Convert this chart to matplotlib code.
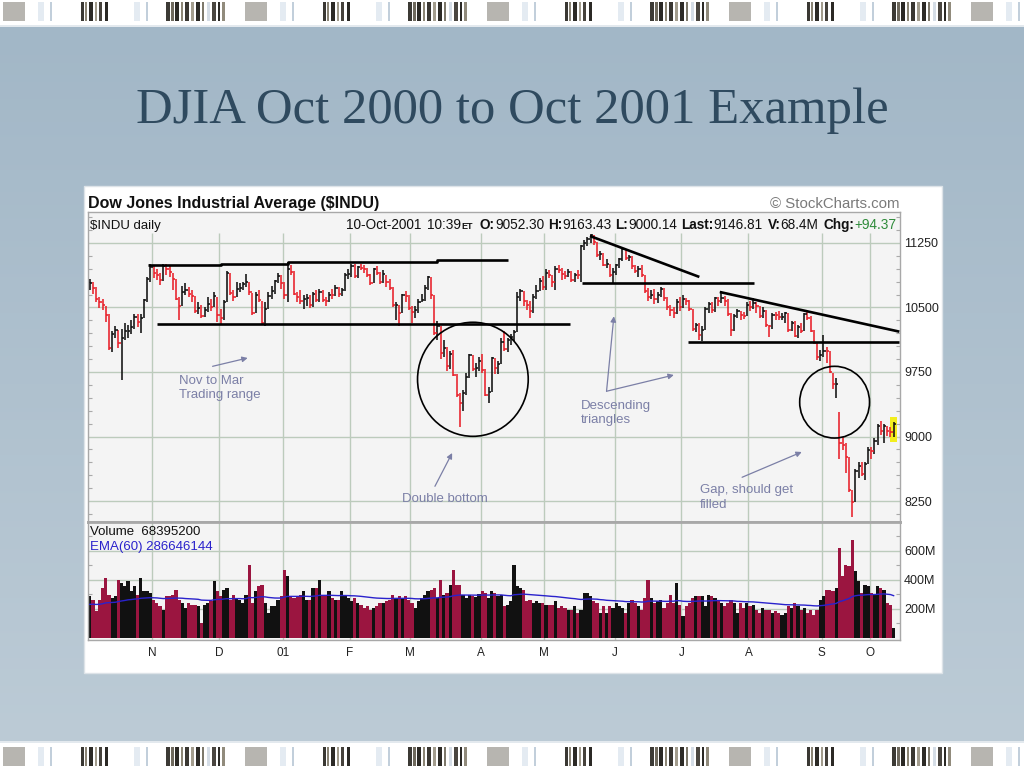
"""
DJIA Oct 2000 to Oct 2001 slide: StockCharts style daily bar chart with volume
"""

import numpy as np
import pandas as pd
import matplotlib
matplotlib.use("Agg")
import matplotlib.pyplot as plt
from matplotlib.colors import LinearSegmentedColormap
from matplotlib.patches import Ellipse, Rectangle

plt.rcParams['font.family'] = ['Liberation Sans', 'DejaVu Sans']

# data (daily bars, Oct 4 2000 .. Oct 10 2001)
# ---------------------------------------------
month_labels = ["N", "D", "01", "F", "M", "A", "M", "J", "J", "A", "S", "O"]
month_lengths = [20, 21, 20, 21, 19, 22, 20, 22, 21, 21, 23, 15, 8]   # trading days per month, Oct00..Oct01

closes = [
    10784, 10724, 10596, 10568, 10524, 10413, 10034, 10192, 10238, 10089, 10142, 10226, 10226, 10271, 10393, 10326, 10380, 10590, 10835, 10971,
    10899, 10880, 10817, 10977, 10952, 10907, 10834, 10603, 10518, 10681, 10708, 10656, 10629, 10462, 10494, 10399, 10470, 10546, 10507, 10629, 10415,
    10373, 10560, 10898, 10664, 10617, 10713, 10726, 10768, 10795, 10675, 10434, 10645, 10585, 10318, 10487, 10636, 10692, 10803, 10869, 10787,
    10646, 10946, 10912, 10662, 10621, 10572, 10604, 10610, 10525, 10652, 10584, 10679, 10587, 10578, 10649, 10647, 10730, 10660, 10702, 10882, 10887,
    10984, 10864, 10965, 10958, 10946, 10880, 10781, 10946, 10904, 10796, 10891, 10799, 10730, 10526, 10526, 10441, 10642, 10636, 10495,
    10450, 10466, 10562, 10591, 10729, 10858, 10644, 10208, 10290, 9973, 10032, 9823, 9959, 9720, 9487, 9389, 9504, 9687, 9947, 9785, 9799, 9879,
    9777, 9485, 9515, 9918, 9791, 9845, 10102, 10013, 10127, 10158, 10217, 10616, 10694, 10579, 10532, 10454, 10625, 10692, 10811, 10735,
    10898, 10877, 10796, 10951, 10935, 10884, 10867, 10910, 10821, 10878, 10873, 11215, 11248, 11301, 11337, 11257, 11105, 11122, 10999, 11006, 10872, 10912,
    10990, 11061, 11175, 11070, 11091, 10977, 10922, 10950, 10872, 10690, 10623, 10645, 10597, 10647, 10716, 10605, 10505, 10472, 10434, 10566, 10502,
    10593, 10571, 10480, 10253, 10300, 10175, 10242, 10479, 10540, 10471, 10606, 10576, 10611, 10577, 10424, 10241, 10405, 10455, 10417, 10401, 10523,
    10510, 10551, 10512, 10401, 10458, 10292, 10288, 10416, 10415, 10384, 10393, 10433, 10241, 10320, 10174, 10276, 10229, 10423, 10382, 10222, 10091, 9919, 9950,
    9998, 9992, 9751, 9606, 9606, 8921, 8904, 8759, 8377, 8236, 8604, 8660, 8568, 8682, 8848,
    8836, 8950, 9123, 9060, 9119, 9067, 9052, 9147]

highs = [
    10830, 10800, 10740, 10620, 10600, 10520, 10420, 10230, 10290, 10240, 10250, 10320, 10300, 10350, 10420, 10420, 10420, 10600, 10860, 11000,
    10990, 10950, 10900, 11010, 11000, 10990, 10900, 10830, 10620, 10750, 10790, 10740, 10700, 10630, 10560, 10530, 10500, 10620, 10600, 10680, 10620,
    10480, 10590, 10920, 10900, 10700, 10800, 10790, 10800, 10890, 10800, 10670, 10680, 10700, 10580, 10560, 10680, 10750, 10820, 10900, 10880,
    10800, 11030, 10990, 10920, 10680, 10700, 10640, 10660, 10650, 10680, 10700, 10710, 10700, 10620, 10680, 10720, 10760, 10740, 10730, 10900, 10950,
    11010, 11000, 10980, 11010, 10990, 10960, 10890, 10960, 10980, 10910, 10940, 10880, 10830, 10740, 10560, 10530, 10660, 10690, 10650,
    10520, 10520, 10600, 10660, 10760, 10870, 10850, 10640, 10340, 10280, 10120, 10040, 9990, 10000, 9730, 9500, 9540, 9740, 9960, 9950, 9860, 9920,
    9960, 9780, 9580, 9930, 9910, 9880, 10140, 10230, 10140, 10190, 10240, 10680, 10720, 10690, 10590, 10580, 10660, 10760, 10840, 10870,
    10950, 10940, 10880, 10980, 10990, 10960, 10920, 10950, 10920, 10900, 10930, 11230, 11290, 11320, 11350, 11340, 11260, 11160, 11130, 11060, 11010, 10960,
    11010, 11080, 11200, 11180, 11110, 11100, 10990, 10980, 10990, 10880, 10730, 10700, 10710, 10680, 10740, 10730, 10620, 10530, 10500, 10600, 10620,
    10640, 10610, 10590, 10480, 10320, 10320, 10280, 10500, 10560, 10560, 10620, 10620, 10690, 10630, 10600, 10430, 10420, 10480, 10460, 10450, 10560,
    10570, 10610, 10560, 10520, 10500, 10470, 10300, 10430, 10450, 10460, 10440, 10450, 10430, 10340, 10340, 10300, 10320, 10440, 10450, 10400, 10240, 10090, 10010,
    10180, 10040, 9990, 9740, 9680, 9290, 9000, 8930, 8760, 8380, 8620, 8700, 8700, 8700, 8880,
    8880, 8980, 9150, 9180, 9140, 9120, 9110, 9163]

lows = [
    10700, 10660, 10560, 10490, 10470, 10330, 10000, 9980, 10150, 10030, 9654, 10120, 10140, 10190, 10250, 10270, 10200, 10380, 10560, 10800,
    10840, 10820, 10760, 10810, 10880, 10860, 10700, 10590, 10360, 10520, 10640, 10620, 10560, 10440, 10420, 10380, 10390, 10450, 10460, 10500, 10330,
    10300, 10360, 10560, 10640, 10580, 10620, 10680, 10700, 10740, 10650, 10410, 10430, 10560, 10300, 10290, 10480, 10600, 10660, 10780, 10720,
    10600, 10560, 10880, 10640, 10560, 10540, 10480, 10520, 10490, 10500, 10560, 10560, 10560, 10520, 10560, 10600, 10630, 10620, 10630, 10690, 10830,
    10850, 10840, 10840, 10930, 10900, 10850, 10760, 10780, 10880, 10770, 10790, 10740, 10700, 10510, 10360, 10290, 10440, 10560, 10470,
    10320, 10380, 10440, 10560, 10580, 10700, 10600, 10180, 10120, 9900, 9920, 9760, 9780, 9700, 9460, 9106, 9300, 9480, 9680, 9760, 9690, 9760,
    9740, 9470, 9389, 9520, 9730, 9730, 9840, 9990, 9980, 10060, 10110, 10220, 10580, 10520, 10470, 10380, 10430, 10600, 10690, 10700,
    10700, 10840, 10740, 10700, 10900, 10820, 10830, 10850, 10800, 10800, 10830, 10800, 11170, 11220, 11250, 11230, 11090, 11050, 10980, 10960, 10860, 10790,
    10880, 10960, 11040, 11050, 11040, 10950, 10900, 10860, 10860, 10670, 10580, 10600, 10540, 10550, 10620, 10580, 10470, 10400, 10380, 10420, 10460,
    10490, 10530, 10460, 10230, 10220, 10120, 10105, 10240, 10440, 10430, 10450, 10520, 10550, 10520, 10400, 10170, 10230, 10380, 10360, 10370, 10400,
    10460, 10480, 10440, 10380, 10380, 10270, 10160, 10250, 10360, 10350, 10360, 10320, 10220, 10230, 10160, 10140, 10200, 10230, 10360, 10210, 10070, 9890, 9880,
    9920, 9860, 9740, 9550, 9450, 8740, 8840, 8580, 8350, 8062, 8240, 8520, 8540, 8500, 8680,
    8740, 8800, 8900, 9020, 8920, 9010, 9000, 9000]

volumes_m = [
    287, 264, 184, 264, 345, 414, 299, 276, 287, 402, 379, 356, 391, 322, 356, 299, 414, 322, 322, 310,
    264, 241, 218, 195, 287, 287, 299, 333, 264, 241, 207, 241, 230, 230, 218, 103, 230, 241, 253, 391, 322,
    287, 333, 345, 264, 299, 276, 264, 241, 299, 506, 241, 322, 356, 368, 241, 172, 218, 218, 264, 287,
    471, 425, 287, 276, 287, 299, 322, 264, 264, 345, 345, 402, 287, 299, 322, 276, 264, 264, 322, 287, 276,
    253, 276, 241, 230, 207, 218, 195, 207, 218, 241, 241, 253, 264, 299, 276, 287, 276, 287, 264,
    241, 207, 253, 276, 299, 322, 333, 345, 276, 402, 299, 310, 368, 471, 368, 368, 299, 276, 299, 287, 280, 300,
    322, 310, 276, 322, 310, 287, 299, 218, 230, 253, 506, 356, 345, 333, 253, 264, 241, 253, 241, 241,
    230, 230, 230, 253, 207, 218, 207, 195, 195, 218, 172, 195, 310, 310, 287, 253, 241, 172, 218, 172, 218, 207,
    241, 218, 207, 172, 241, 264, 241, 218, 195, 276, 402, 276, 241, 253, 264, 207, 241, 299, 241, 379, 230,
    150, 218, 241, 276, 287, 287, 287, 218, 299, 287, 276, 264, 241, 218, 241, 264, 241, 172, 241, 207, 241,
    218, 230, 195, 172, 207, 195, 195, 172, 184, 172, 161, 172, 218, 207, 241, 218, 195, 207, 172, 195, 161, 195, 264,
    287, 333, 333, 322, 345, 621, 425, 506, 494, 678, 460, 391, 310, 368, 356,
    310, 299, 356, 345, 333, 241, 230, 69]
ema_seed_m = 230

price_ticks = [11250, 10500, 9750, 9000, 8250]
volume_ticks = [200, 400, 600]

# drawn-on trend lines and circles, in (bar index, price)
range_top = [(18.3, 10995), (41, 10995), (41, 11010), (62, 11010), (62, 11025), (109, 11025), (109, 11055), (131, 11055)]
range_bottom = [(21.1, 10308), (150.5, 10308)]
triangle_lines = [[(156.8, 11331), (191.1, 10855)], [(154.2, 10781), (208.3, 10781)],
                  [(197.5, 10680), (253.8, 10219)], [(187.6, 10099), (253.8, 10099)]]
circles = [((120.1, 9665), 34.7, 1326), ((233.5, 9399), 21.9, 834)]

notes = [("Nov to Mar\nTrading range", (28.1, 9720)),
         ("Double bottom", (97.8, 8340)),
         ("Descending\ntriangles", (154.0, 9430)),
         ("Gap, should get\nfilled", (191.3, 8450))]
note_arrows = [((38.5, 9816), (49.5, 9913)),
               ((108.2, 8421), (113.6, 8808)),
               ((162.0, 9526), (164.3, 10398)),
               ((162.0, 9526), (183.1, 9715)),
               ((204.5, 8526), (223.2, 8820))]

# colours
bar_red = "#e8202a"
bar_black = "#111111"
vol_red = "#9b1540"
grid_c = "#bccbbc"
note_c = "#7b7fa6"
ema_c = "#2a22cc"

W, H = 1024, 768


def frac(x0, y0, x1, y1):
    return [x0 / W, 1 - y1 / H, (x1 - x0) / W, (y1 - y0) / H]


fig = plt.figure(figsize=(W / 100, H / 100), dpi=100)

# slide background
# ----------------
ax_bg = fig.add_axes([0, 0, 1, 1])
ax_bg.set_xlim(0, W)
ax_bg.set_ylim(H, 0)
ax_bg.axis("off")

grad = np.linspace(0, 1, 256)[:, None]
bg_cmap = LinearSegmentedColormap.from_list("bg", ["#a2b7c7", "#bccbd6"])
ax_bg.imshow(grad, extent=(0, W, 742, 26), cmap=bg_cmap, aspect="auto", origin="upper", zorder=0)
ax_bg.add_patch(Rectangle((0, 0), W, 25, fc="white", ec="none", zorder=1))
ax_bg.add_patch(Rectangle((0, 25), W, 2, fc="#e3e9ee", ec="none", zorder=1))
ax_bg.add_patch(Rectangle((0, 743), W, 25, fc="white", ec="none", zorder=1))
ax_bg.add_patch(Rectangle((0, 741), W, 2, fc="#e3e9ee", ec="none", zorder=1))

# barcode decoration strips
wide_cluster = [(0, 4, "#3c3a35"), (5, 3, "#6f6a5e"), (9, 4, "#2b2925"), (15, 2, "#8c8676"),
                (19, 4, "#3a3732"), (25, 3, "#a39d8e"), (30, 4, "#2d2b27"), (36, 2, "#7d786b"),
                (41, 3, "#d5dde6"), (46, 4, "#4a4640"), (52, 2, "#2c2a26"), (56, 3, "#918b7c")]
narrow_cluster = [(0, 3, "#3a3833"), (4, 2, "#8a8475"), (8, 4, "#2c2a26"), (14, 2, "#a29c8d"),
                  (18, 3, "#46423c"), (24, 3, "#2b2925")]
tile = [("block", 0), ("thin", 47), ("narrow", 78), ("thin", 143), ("wide", 163)]
for y0 in (2, 747):
    for origin in range(3, W, 242):
        for kind, off in tile:
            x = origin + off
            if kind == "block":
                ax_bg.add_patch(Rectangle((x, y0), 22, 19, fc="#b7b5b0", ec="none", zorder=2))
            elif kind == "thin":
                ax_bg.add_patch(Rectangle((x, y0), 2, 19, fc="#c2cfdb", ec="none", zorder=2))
                ax_bg.add_patch(Rectangle((x - 12, y0), 6, 19, fc="#e4ebf2", ec="none", zorder=2))
            else:
                cl = wide_cluster if kind == "wide" else narrow_cluster
                for dx, w, c in cl:
                    ax_bg.add_patch(Rectangle((x + dx, y0), w, 19, fc=c, ec="none", zorder=2))

ax_bg.text(512, 111, "DJIA Oct 2000 to Oct 2001 Example", ha="center", va="center",
           fontsize=36.5, family=["Liberation Serif", "DejaVu Serif"], color="#2f4a5f", zorder=3)

# white chart card
ax_bg.add_patch(Rectangle((84, 186), 858, 487, fc="white", ec="#dde3e8", lw=1, zorder=3))

# price panel
# -----------
n = len(closes)
idx = np.arange(n)
c_arr = np.array(closes, dtype=float)
prev = np.r_[c_arr[0], c_arr[:-1]]
down = c_arr < prev
bar_cols = np.where(down, bar_red, bar_black)
vol_cols = np.where(down, vol_red, bar_black)
month_bounds = np.cumsum(month_lengths)[:-1] - 0.5

x_lo, x_hi = -0.56, 254.0

ax_p = fig.add_axes(frac(88, 212, 900, 522))
ax_p.set_facecolor("#f4f4f4")
ax_p.set_xlim(x_lo, x_hi)
ax_p.set_ylim(8006, 11610)
for s in ax_p.spines.values():
    s.set_color("#a8a8a8")
    s.set_linewidth(1)
ax_p.spines["bottom"].set_linewidth(2)
ax_p.set_xticks([])
ax_p.yaxis.tick_right()
ax_p.set_yticks(price_ticks)
ax_p.set_yticklabels([str(p) for p in price_ticks])
ax_p.set_yticks(np.arange(8100, 11600, 150), minor=True)
ax_p.tick_params(axis="y", which="major", length=0, pad=3, labelsize=9, labelcolor="#222222")
ax_p.tick_params(axis="y", which="minor", left=True, right=True, direction="in", length=3,
                 width=0.8, color="#aaaaaa")

ax_p.hlines(price_ticks, x_lo, x_hi, color=grid_c, lw=1, zorder=0)
ax_p.vlines(month_bounds, 8006, 11366, color=grid_c, lw=1, zorder=0)

# highlight of the current bar
ax_p.add_patch(Rectangle((idx[-1] - 1.2, lows[-1] - 60), 2.4, highs[-1] - lows[-1] + 120,
                         fc="#f2ee1e", ec="none", zorder=1))

ax_p.vlines(idx, lows, highs, colors=bar_cols, lw=1.15, zorder=3)
ax_p.hlines(c_arr, idx, idx + 0.7, colors=bar_cols, lw=1.15, zorder=3)

# trend lines and circles
for line in [range_top, range_bottom] + triangle_lines:
    xs, ys = zip(*line)
    ax_p.plot(xs, ys, color="black", lw=1.9, solid_capstyle="butt", zorder=4)
for (cx, cy), w, h in circles:
    ax_p.add_patch(Ellipse((cx, cy), w, h, fill=False, ec="black", lw=1.2, zorder=4))

for txt, (tx, ty) in notes:
    ax_p.text(tx, ty, txt, ha="left", va="top", fontsize=9.5, color=note_c, linespacing=1.3, zorder=5)
for tail, head in note_arrows:
    ax_p.annotate("", xy=head, xytext=tail,
                  arrowprops=dict(arrowstyle="-|>", color=note_c, lw=0.9, mutation_scale=8,
                                  shrinkA=0, shrinkB=0), zorder=5)

# volume panel
# ------------
ax_v = fig.add_axes(frac(88, 522, 900, 640))
ax_v.set_facecolor("#f4f4f4")
ax_v.set_xlim(x_lo, x_hi)
ax_v.set_ylim(-14, 800)
for s in ax_v.spines.values():
    s.set_color("#a8a8a8")
    s.set_linewidth(1)
ax_v.spines["top"].set_linewidth(2)
ax_v.yaxis.tick_right()
ax_v.set_yticks(volume_ticks)
ax_v.set_yticklabels([f"{v}M" for v in volume_ticks])
ax_v.set_yticks(np.arange(100, 800, 100), minor=True)
ax_v.tick_params(axis="y", which="major", length=0, pad=3, labelsize=9, labelcolor="#222222")
ax_v.tick_params(axis="y", which="minor", left=True, right=True, direction="in", length=3,
                 width=0.8, color="#aaaaaa")
ax_v.set_xticks(month_bounds)
ax_v.set_xticklabels(month_labels)
ax_v.tick_params(axis="x", length=0, pad=5, labelsize=8.5, labelcolor="#222222")

ax_v.hlines(volume_ticks, x_lo, x_hi, color=grid_c, lw=1, zorder=0)
ax_v.vlines(month_bounds, -14, 800, color=grid_c, lw=1, zorder=0)

ax_v.bar(idx, volumes_m, width=1.0, color=vol_cols, lw=0, zorder=2)
ema = pd.Series([ema_seed_m] + volumes_m).ewm(span=60, adjust=False).mean().to_numpy()[1:]
ax_v.plot(idx, ema, color=ema_c, lw=1.0, zorder=3)

# header and legend texts
# -----------------------
ax_t = fig.add_axes([0, 0, 1, 1])
ax_t.set_xlim(0, W)
ax_t.set_ylim(H, 0)
ax_t.axis("off")
ax_t.patch.set_alpha(0)

ax_t.text(88, 208, "Dow Jones Industrial Average ($INDU)", fontsize=11.5, fontweight="bold",
          color="#111111", va="baseline")
ax_t.text(899, 208, "© StockCharts.com", fontsize=10.8, color="#7a7a7a", va="baseline", ha="right")
ax_t.text(90, 229, "$INDU daily", fontsize=9.5, color="#111111", va="baseline")

info_pieces = [("10-Oct-2001", "normal", "#111111", 9.8, 6),
               ("10:39", "normal", "#111111", 9.8, 0),
               ("ET", "bold", "#111111", 6.5, 7),
               ("O:", "bold", "#111111", 9.8, 0),
               ("9052.30", "normal", "#111111", 9.8, 4),
               ("H:", "bold", "#111111", 9.8, 0),
               ("9163.43", "normal", "#111111", 9.8, 4),
               ("L:", "bold", "#111111", 9.8, 0),
               ("9000.14", "normal", "#111111", 9.8, 4),
               ("Last:", "bold", "#111111", 9.8, 0),
               ("9146.81", "normal", "#111111", 9.8, 5),
               ("V:", "bold", "#111111", 9.8, 0),
               ("68.4M", "normal", "#111111", 9.8, 5),
               ("Chg:", "bold", "#111111", 9.8, 0),
               ("+94.37", "normal", "#2e8b3a", 9.8, 0)]
renderer = fig.canvas.get_renderer()
x_cur = 346
for txt, weight, col, size, gap in info_pieces:
    t = ax_t.text(x_cur, 229, txt, fontsize=size, fontweight=weight, color=col, va="baseline")
    x_cur += t.get_window_extent(renderer).width + gap

ax_t.text(90, 535, "Volume  68395200", fontsize=9.5, color="#111111", va="baseline")
ax_t.text(90, 550, "EMA(60) 286646144", fontsize=9.5, color=ema_c, va="baseline")

fig.savefig("out.png", dpi=100)
